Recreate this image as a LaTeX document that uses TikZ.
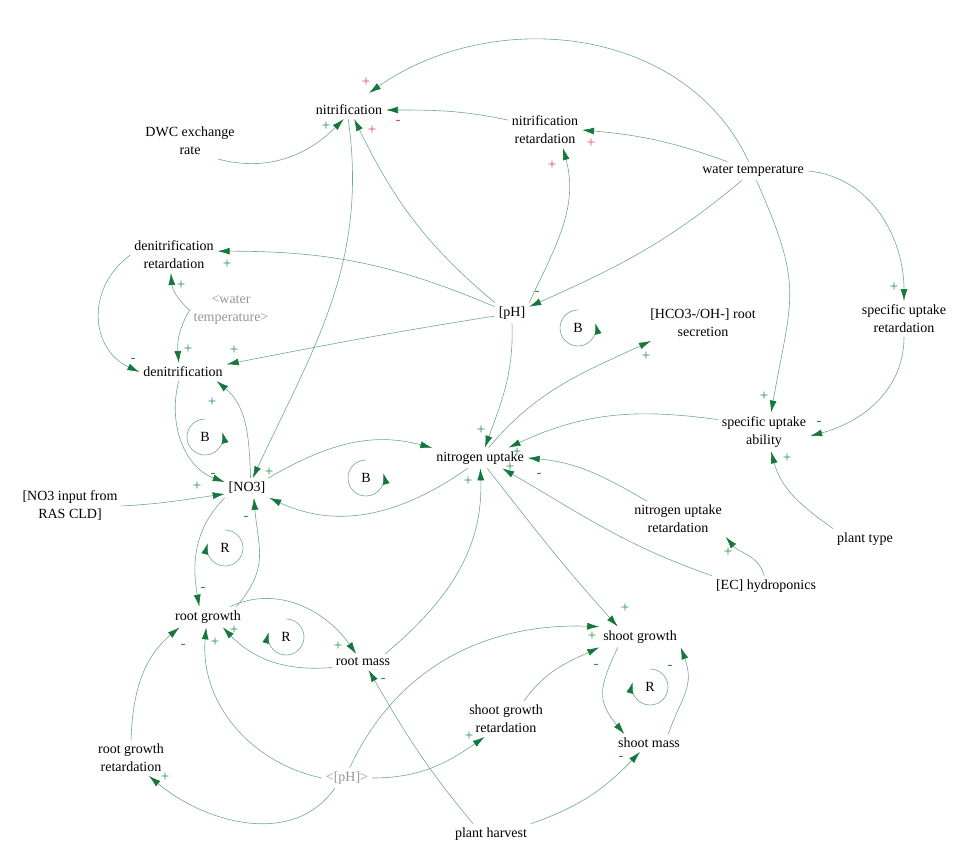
\documentclass[tikz,border=0pt]{standalone}
\usepackage{fontspec}
\setmainfont{Liberation Serif}
\usetikzlibrary{arrows.meta}
\definecolor{linkgreen}{RGB}{110,170,140}
\definecolor{headgreen}{RGB}{20,120,60}
\definecolor{signgreen}{RGB}{40,140,80}
\definecolor{signred}{RGB}{225,70,80}
\definecolor{shadowgray}{RGB}{150,150,150}
\tikzset{
  var/.style={align=center,inner sep=1pt,outer sep=3pt,font=\fontsize{14}{18}\selectfont},
  shadowvar/.style={var,text=shadowgray},
  link/.style={draw=linkgreen,line width=0.6pt,-{Latex[length=12pt,width=7pt,color=headgreen]}},
  pol/.style={inner sep=0pt,text=signgreen,font=\fontsize{15}{15}\selectfont},
  polred/.style={pol,text=signred},
  looplabel/.style={inner sep=0pt,font=\fontsize{14}{14}\selectfont},
  loopsym/.style={draw=linkgreen,line width=0.6pt,-{Latex[length=11pt,width=7pt,color=headgreen]}},
}
\begin{document}
\begin{tikzpicture}[x=1pt,y=1pt]
  \useasboundingbox (0,0) rectangle (972,-867);
  \node[var] (nit) at (349,-110) {nitrification};
  \node[var] (dwc) at (190,-141) {DWC exchange\\rate};
  \node[var] (nr) at (545,-130) {nitrification\\retardation};
  \node[var] (wt) at (753,-171) {water temperature};
  \node[var] (dr) at (174,-255) {denitrification\\retardation};
  \node[shadowvar] (wt2) at (231,-310) {<water\\temperature>};
  \node[var] (den) at (183,-372) {denitrification};
  \node[var] (ph) at (512,-313) {[pH]};
  \node[var] (hco) at (703,-323) {[HCO3-/OH-] root\\secretion};
  \node[var] (sur) at (904,-319) {specific uptake\\retardation};
  \node[var] (sua) at (764,-432) {specific uptake\\ability};
  \node[var] (nu) at (480,-458) {nitrogen uptake};
  \node[var] (no3) at (247,-488) {[NO3]};
  \node[var] (inp) at (70,-506) {[NO3 input from\\RAS CLD]};
  \node[var] (nur) at (678,-519) {nitrogen uptake\\retardation};
  \node[var] (pt) at (865,-539) {plant type};
  \node[var] (ec) at (766,-586) {[EC] hydroponics};
  \node[var] (rg) at (208,-617) {root growth};
  \node[var] (rm) at (363,-662) {root mass};
  \node[var] (sg) at (640,-637) {shoot growth};
  \node[var] (sgr) at (506,-719) {shoot growth\\retardation};
  \node[var] (sm) at (649,-743) {shoot mass};
  \node[var] (rgr) at (131,-758) {root growth\\retardation};
  \node[shadowvar] (ph2) at (347,-778) {<[pH]>};
  \node[var] (phv) at (491,-834) {plant harvest};

  \draw[link] (wt.115) to[out=115,in=35] ([shift={(20,8)}]nit.north) node[polred] at (366,-82) {+};
  \draw[link] (nr.165) to[out=168,in=0] (nit.east) node[polred] at (398,-122) {-};
  \draw[link] (dwc.-33) to[out=-15,in=-135] (nit.-120) node[pol] at (326,-126) {+};
  \draw[link] (ph.north west) to[out=140,in=-64] (nit.-60) node[polred] at (372,-130) {+};
  \draw[link] (wt.160) to[out=160,in=-5] (nr.east) node[polred] at (591,-143) {+};
  \draw[link] (ph.north east) to[out=65,in=-75] (nr.-45) node[polred] at (552,-165) {+};
  \draw[link] (wt.-140) to[out=-140,in=24] (ph.20) node[pol] at (537,-293) {-};
  \draw[link] (wt.-70) to[out=-66,in=80,looseness=1.3] (sua.70) node[pol] at (764,-396) {+};
  \draw[link] (wt.east) to[out=-5,in=90] (sur.north) node[pol] at (894,-287) {+};
  \draw[link] (sur.south) to[out=-90,in=15] (sua.-5) node[pol] at (819,-423) {-};
  \draw[link] (pt.north west) to[out=145,in=-75] (sua.-70) node[pol] at (787,-458) {+};
  \draw[link] (sua.165) to[out=172,in=25] (nu.20) node[pol] at (517,-452) {+};
  \draw[link] (nu.50) to[out=50,in=-155] (hco.-161) node[pol] at (646,-356) {+};
  \draw[link] (ph.south) to[out=-88,in=70] (nu.65) node[pol] at (481,-430) {+};
  \draw[link] (ph.160) to[out=157,in=0] (dr.5) node[pol] at (227,-264) {+};
  \draw[link] (ph.190) to[out=189,in=11] (den.10) node[pol] at (234,-350) {+};
  \draw[link] (wt2.west) to[out=140,in=-85] (dr.-100) node[pol] at (181,-285) {+};
  \draw[link] (wt2.west) to[out=-120,in=95] (den.115) node[pol] at (188,-349) {+};
  \draw[link] (dr.west) to[out=216,in=155,looseness=1.2] (den.west) node[pol] at (133,-360) {-};
  \draw[link] (den.-115) to[out=-105,in=160] (no3.165) node[pol] at (213,-475) {-};
  \draw[link] (no3.70) to[out=92,in=-40] (den.-15) node[pol] at (212,-402) {+};
  \draw[link] (nit.-95) to[out=-82,in=65] (no3.60) node[pol] at (269,-472) {+};
  \draw[link] (inp.east) to[out=3,in=-172] (no3.195) node[pol] at (197,-486) {+};
  \draw[link] (no3.25) to[out=30,in=165] (nu.168);
  \draw[link] (nu.-140) to[out=-145,in=-25] (no3.south east);
  \draw[link] (rm.20) to[out=40,in=-88] (nu.-88) node[pol] at (468,-481) {+};
  \draw[link] (nu.-55) to[out=-52,in=132] (sg.155) node[pol] at (625,-608) {+};
  \draw[link] (nur.150) to[out=150,in=-5] (nu.east) node[pol] at (539,-475) {-};
  \draw[link] (ec.north west) to[out=161,in=-30] (nu.-25) node[pol] at (510,-467) {+};
  \draw[link] (ec.100) to[out=105,in=-50] (nur.south east) node[pol] at (728,-552) {+};
  \draw[link] (no3.south west) to[out=-135,in=100] (rg.130) node[pol] at (203,-589) {-};
  \draw[link] (rg.20) to[out=50,in=-85,looseness=1.2] (no3.-55) node[pol] at (246,-518) {-};
  \draw[link] (rg.25) to[out=25,in=125] (rm.130) node[pol] at (338,-646) {+};
  \draw[link] (rm.-170) to[out=185,in=-46] (rg.-35) node[pol] at (234,-630) {+};
  \draw[link] (rgr.north) to[out=88,in=-140] (rg.-160) node[pol] at (183,-646) {-};
  \draw[link] (ph2.west) to[out=168,in=-95] (rg.-100) node[pol] at (215,-642) {+};
  \draw[link] (ph2.-140) to[out=-125,in=-40] (rgr.-45) node[pol] at (165,-777) {+};
  \draw[link] (ph2.east) to[out=0,in=-145] (sgr.-140) node[pol] at (469,-736) {+};
  \draw[link] (ph2.75) to[out=65,in=178] (sg.north west) node[pol] at (592,-636) {+};
  \draw[link] (sgr.45) to[out=55,in=-155] (sg.south west);
  \draw[link] (sg.-155) to[out=-115,in=130,looseness=1.3] (sm.160) node[pol] at (596,-666) {-};
  \draw[link] (sm.25) to[out=70,in=-70,looseness=1.2] (sg.south east) node[pol] at (670,-667) {-};
  \draw[link] (phv.150) to[out=130,in=-60] (rm.-55) node[pol] at (383,-680) {-};
  \draw[link] (phv.north east) to[out=19,in=-134] (sm.-135) node[pol] at (621,-758) {-};

  \node[looplabel] (lpB1) at (578,-328) {B};
  \node[looplabel] (lpB2) at (205,-437) {B};
  \node[looplabel] (lpB3) at (366,-478) {B};
  \node[looplabel] (lpR1) at (225,-548) {R};
  \node[looplabel] (lpR2) at (286,-637) {R};
  \node[looplabel] (lpR3) at (650,-687) {R};
  \draw[loopsym] (lpB1.center) ++(90:18) arc[start angle=90,end angle=375,radius=18];
  \draw[loopsym] (lpB2.center) ++(90:18) arc[start angle=90,end angle=375,radius=18];
  \draw[loopsym] (lpB3.center) ++(90:18) arc[start angle=90,end angle=375,radius=18];
  \draw[loopsym] (lpR1.center) ++(90:18) arc[start angle=90,end angle=-195,radius=18];
  \draw[loopsym] (lpR2.center) ++(90:18) arc[start angle=90,end angle=-195,radius=18];
  \draw[loopsym] (lpR3.center) ++(90:18) arc[start angle=90,end angle=-195,radius=18];
\end{tikzpicture}
\end{document}
